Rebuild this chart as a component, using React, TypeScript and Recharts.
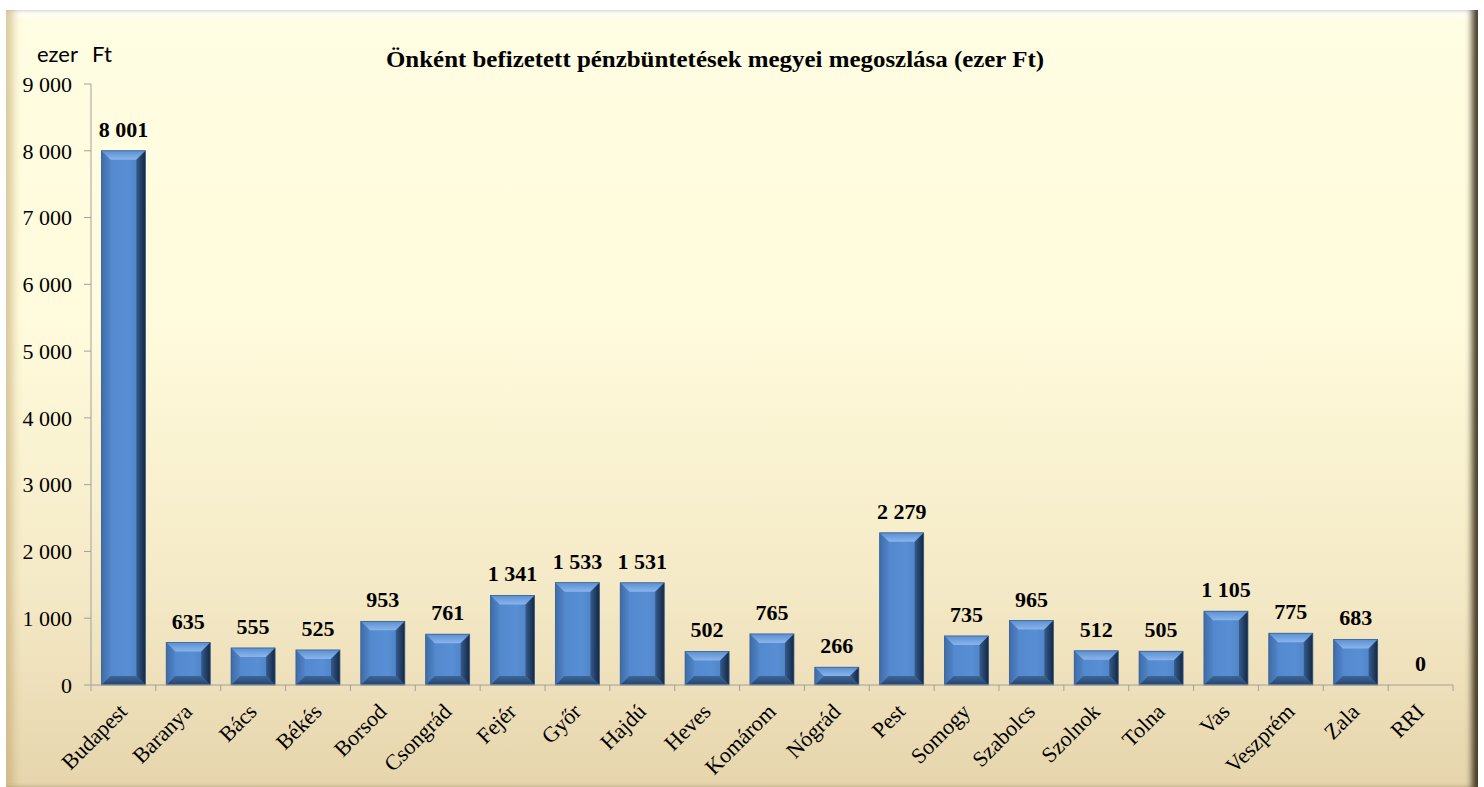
import { BarChart, Bar, XAxis, YAxis, LabelList } from "recharts";

const counties = [
  "Budapest", "Baranya", "Bács", "Békés", "Borsod", "Csongrád", "Fejér",
  "Győr", "Hajdú", "Heves", "Komárom", "Nógrád", "Pest", "Somogy",
  "Szabolcs", "Szolnok", "Tolna", "Vas", "Veszprém", "Zala", "RRI",
];
const amounts = [
  8001, 635, 555, 525, 953, 761, 1341, 1533, 1531, 502, 765, 266, 2279,
  735, 965, 512, 505, 1105, 775, 683, 0,
];
const yTicks = [0, 1000, 2000, 3000, 4000, 5000, 6000, 7000, 8000, 9000];

const data = counties.map((name, i) => ({ name, value: amounts[i] }));

const fmt = (v: number) =>
  String(v).replace(/\B(?=(\d{3})+(?!\d))/g, " ");

const W = 1484;
const H = 787;
const PLOT_LEFT = 91;
const PLOT_RIGHT = 1453;
const BAND = (PLOT_RIGHT - PLOT_LEFT) / counties.length;
const serif = "'Liberation Serif', 'Times New Roman', serif";

function BevelBar(props: any) {
  const { x, y, width, height } = props;
  if (!height || height <= 0) return null;
  const b = Math.min(9, height / 2, width / 2);
  const x2 = x + width;
  const y2 = y + height;
  return (
    <g>
      <rect x={x} y={y} width={width} height={height} fill="url(#face)" />
      {/* top */}
      <polygon points={`${x},${y} ${x2},${y} ${x2 - b},${y + b} ${x + b},${y + b}`} fill="url(#topBevel)" />
      {/* left */}
      <polygon points={`${x},${y} ${x + b},${y + b} ${x + b},${y2 - b} ${x},${y2}`} fill="url(#leftBevel)" />
      {/* right */}
      <polygon points={`${x2},${y} ${x2},${y2} ${x2 - b},${y2 - b} ${x2 - b},${y + b}`} fill="url(#rightBevel)" />
      {/* bottom */}
      <polygon points={`${x},${y2} ${x2},${y2} ${x2 - b},${y2 - b} ${x + b},${y2 - b}`} fill="url(#bottomBevel)" />
      <rect x={x} y={y} width={width} height={height} fill="none" stroke="#3a5f8f" strokeWidth={0.8} />
    </g>
  );
}

function CountyTick(props: any) {
  const { x, payload, index } = props;
  const isLast = index === counties.length - 1;
  const tx = x + 5;
  const ty = 713;
  return (
    <g>
      <line x1={x - BAND / 2} y1={685} x2={x - BAND / 2} y2={691} stroke="#a0a0a0" />
      {isLast && (
        <line x1={x + BAND / 2} y1={685} x2={x + BAND / 2} y2={691} stroke="#a0a0a0" />
      )}
      <text
        x={tx}
        y={ty}
        textAnchor="end"
        transform={`rotate(-45, ${tx}, ${ty})`}
        fontFamily={serif}
        fontSize={22}
        fill="#000"
      >
        {payload.value}
      </text>
    </g>
  );
}

export default function App() {
  return (
    <div
      style={{
        position: "absolute",
        left: 0,
        top: 0,
        width: W,
        height: H,
        background: "#fff",
      }}
    >
      <div
        style={{
          position: "absolute",
          left: 6,
          top: 10,
          width: 1472,
          height: 777,
          background: "linear-gradient(to bottom, #fffde2 0%, #fffbdc 40%, #f4e9c6 75%, #e6d5ac 100%)",
          boxShadow:
            "inset 12px 0 8px -5px rgba(190,160,100,0.55), inset -9px 0 6px -3px rgba(40,30,10,0.85), inset 0 10px 8px -4px rgba(255,255,255,0.9)",
        }}
      />
      <div style={{ position: "absolute", left: 0, top: 0 }}>
        <BarChart
          width={W}
          height={H}
          data={data}
          margin={{ top: 84, right: W - PLOT_RIGHT, bottom: 12, left: 11 }}
          barCategoryGap="16%"
        >
          <defs>
            <linearGradient id="face" x1="0" y1="0" x2="1" y2="0">
              <stop offset="0%" stopColor="#5186cb" />
              <stop offset="60%" stopColor="#588ed3" />
              <stop offset="100%" stopColor="#4a7dbd" />
            </linearGradient>
            <linearGradient id="topBevel" x1="0" y1="0" x2="0" y2="1">
              <stop offset="0%" stopColor="#5a8fd2" />
              <stop offset="100%" stopColor="#8ab5ec" />
            </linearGradient>
            <linearGradient id="leftBevel" x1="0" y1="0" x2="1" y2="0">
              <stop offset="0%" stopColor="#3f6ca8" />
              <stop offset="100%" stopColor="#5085c8" />
            </linearGradient>
            <linearGradient id="rightBevel" x1="0" y1="0" x2="1" y2="0">
              <stop offset="0%" stopColor="#345b8f" />
              <stop offset="100%" stopColor="#15273f" />
            </linearGradient>
            <linearGradient id="bottomBevel" x1="0" y1="0" x2="0" y2="1">
              <stop offset="0%" stopColor="#3d6699" />
              <stop offset="100%" stopColor="#26436b" />
            </linearGradient>
          </defs>
          <text
            x={715}
            y={67}
            textAnchor="middle"
            fontFamily={serif}
            fontWeight="bold"
            fontSize={23}
            textLength={658}
            lengthAdjust="spacingAndGlyphs"
            fill="#000"
          >
            Önként befizetett pénzbüntetések megyei megoszlása (ezer Ft)
          </text>
          <text x={37} y={62} fontFamily="Lato, 'Open Sans', sans-serif" fontSize={22} fill="#000">
            <tspan x={37}>ezer</tspan>
            <tspan x={92}>Ft</tspan>
          </text>
          <XAxis
            dataKey="name"
            interval={0}
            height={90}
            axisLine={{ stroke: "#a0a0a0" }}
            tickLine={false}
            tick={<CountyTick />}
          />
          <YAxis
            width={80}
            domain={[0, 9000]}
            ticks={yTicks}
            interval={0}
            tickFormatter={fmt}
            axisLine={{ stroke: "#a0a0a0" }}
            tickLine={{ stroke: "#a0a0a0" }}
            tickSize={7}
            tickMargin={12}
            tick={{ fontFamily: serif, fontSize: 22, fill: "#000" }}
          />
          <Bar dataKey="value" isAnimationActive={false} shape={<BevelBar />}>
            <LabelList
              dataKey="value"
              position="top"
              offset={14}
              formatter={(v: any) => fmt(Number(v))}
              style={{ fontFamily: serif, fontWeight: "bold", fontSize: 22, fill: "#000" }}
            />
          </Bar>
        </BarChart>
      </div>
    </div>
  );
}
